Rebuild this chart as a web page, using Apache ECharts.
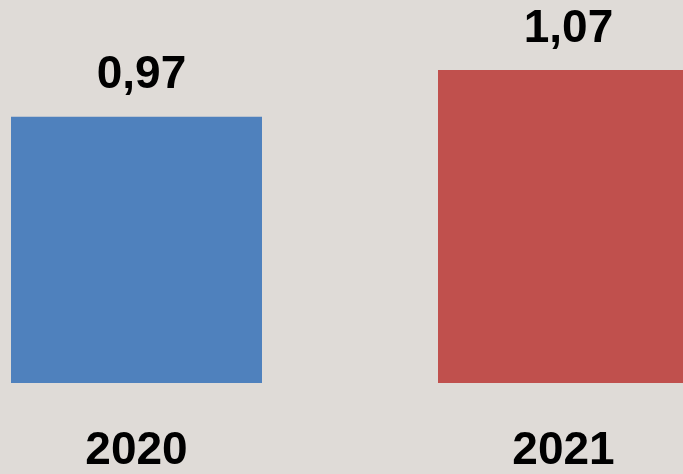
<!DOCTYPE html>
<html><head><meta charset="utf-8">
<script src="https://cdn.jsdelivr.net/npm/echarts@6/dist/echarts.min.js"></script>
<style>html,body{margin:0;padding:0;background:#dfdbd7;overflow:hidden;width:683px;height:474px}#c{width:854px;height:474px;margin-left:-77px}</style>
</head><body><div id="c"></div>
<script>
const categories = ['2020', '2021'];
const values = [0.97, 1.07];
const barColors = ['#4f81bd', '#c0504d'];

const chart = echarts.init(document.getElementById('c'), null, {renderer: 'canvas'});
const font = '"Liberation Sans", Arial, sans-serif';
chart.setOption({
  backgroundColor: '#dfdbd7',
  animation: false,
  grid: {left: 0, right: 0, top: 56, bottom: 85, containLabel: false},
  xAxis: {
    type: 'category', data: categories,
    axisLine: {show: false}, axisTick: {show: false},
    axisLabel: {color: '#000', fontFamily: font, fontWeight: 'bold', fontSize: 46, margin: 45}
  },
  yAxis: {type: 'value', min: 0.4, max: 1.1, show: false, splitLine: {show: false}},
  series: [{
    type: 'bar', barWidth: 251,
    data: values.map((v, i) => ({value: v, itemStyle: {color: barColors[i]}})),
    label: {
      show: true, position: 'top', distance: 18, offset: [5, 0], color: '#000',
      fontFamily: font, fontWeight: 'bold', fontSize: 46,
      formatter: p => p.value.toFixed(2).replace('.', ',')
    }
  }]
});
</script></body></html>
